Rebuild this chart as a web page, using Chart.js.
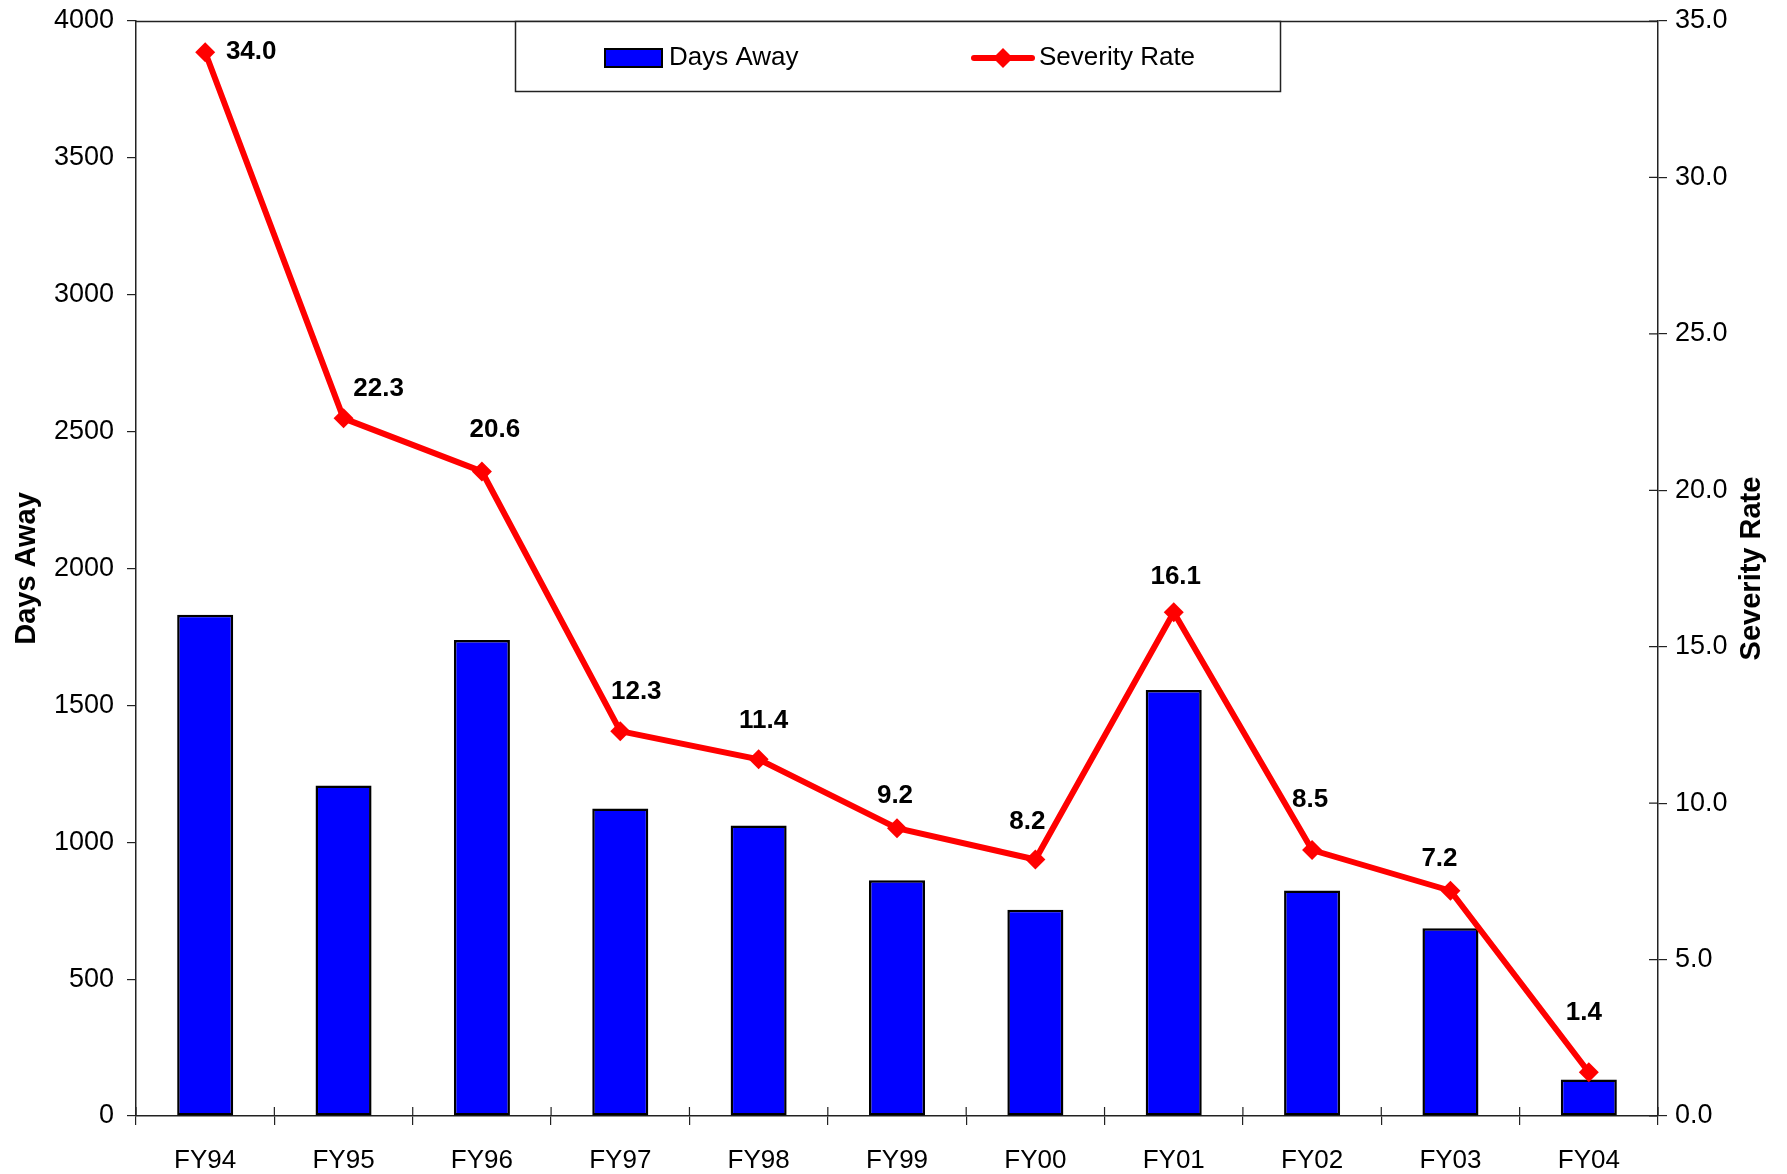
<!DOCTYPE html>
<html>
<head>
<meta charset="utf-8">
<script src="https://cdn.jsdelivr.net/npm/chart.js@4.4.1/dist/chart.umd.min.js"></script>
<style>
  html, body { margin: 0; padding: 0; background: #fff; }
  #wrap { width: 1787px; height: 1174px; }
</style>
</head>
<body>
<div id="wrap"><canvas id="c" width="1787" height="1174"></canvas></div>
<script>
const categories = ['FY94', 'FY95', 'FY96', 'FY97', 'FY98', 'FY99', 'FY00', 'FY01', 'FY02', 'FY03', 'FY04'];
const daysAway = [1831, 1207, 1739, 1123, 1061, 861, 753, 1556, 824, 686, 133];
const severityRate = [34.0, 22.3, 20.6, 12.3, 11.4, 9.2, 8.2, 16.1, 8.5, 7.2, 1.4];
const leftAxisRange = { min: 0, max: 4000, step: 500 };
const rightAxisRange = { min: 0, max: 35, step: 5 };
const seriesNames = ['Days Away', 'Severity Rate'];

const FONT = "'Liberation Sans', Arial, sans-serif";
const labelOffsets = [[46, 0], [35, -30], [13, -42], [16, -39], [5, -39], [-2, -32], [-8, -38], [2, -35], [-2, -50], [-11, -32], [-5, -59]];

const framePlugin = {
  id: 'frame',
  afterDatasetsDraw(chart) {
    const { ctx, chartArea: a, scales } = chart;
    ctx.save();
    ctx.strokeStyle = '#222';
    ctx.lineWidth = 1.5;
    ctx.beginPath();
    ctx.moveTo(a.left, a.top + 0.5);
    ctx.lineTo(a.right, a.top + 0.5);
    ctx.stroke();
    ctx.lineWidth = 1.2;
    ctx.beginPath();
    const x = scales.x;
    for (let i = 0; i <= categories.length; i++) {
      const px = x.getPixelForValue(i - 0.5);
      ctx.moveTo(px, a.bottom);
      ctx.lineTo(px, a.bottom - 9);
    }
    const y1 = scales.y1;
    for (let v = rightAxisRange.min; v <= rightAxisRange.max; v += rightAxisRange.step) {
      const py = y1.getPixelForValue(v);
      ctx.moveTo(a.right, py);
      ctx.lineTo(a.right - 9, py);
    }
    ctx.stroke();
    ctx.save();
    ctx.translate(1752, (a.top + a.bottom) / 2);
    ctx.rotate(-Math.PI / 2);
    ctx.font = "bold 29px " + FONT;
    ctx.fillStyle = '#000';
    ctx.textAlign = 'center';
    ctx.textBaseline = 'middle';
    ctx.fillText(seriesNames[1], 0, 0);
    ctx.restore();
    ctx.restore();
  }
};

const valueLabelPlugin = {
  id: 'valueLabels',
  afterDatasetsDraw(chart) {
    const { ctx } = chart;
    const meta = chart.getDatasetMeta(1);
    ctx.save();
    ctx.font = "bold 26px " + FONT;
    ctx.fillStyle = '#000';
    ctx.textAlign = 'center';
    ctx.textBaseline = 'middle';
    meta.data.forEach((pt, i) => {
      const off = labelOffsets[i] || [0, -35];
      ctx.fillText(severityRate[i].toFixed(1), pt.x + off[0], pt.y + off[1]);
    });
    ctx.restore();
  }
};

const legendPlugin = {
  id: 'boxLegend',
  afterDraw(chart) {
    const { ctx } = chart;
    const ds = chart.data.datasets;
    ctx.save();
    ctx.fillStyle = '#fff';
    ctx.fillRect(515, 21, 765, 70);
    ctx.strokeStyle = '#222';
    ctx.lineWidth = 1.5;
    ctx.strokeRect(515.5, 21.5, 765, 70);
    ctx.fillStyle = ds[0].backgroundColor;
    ctx.fillRect(605, 49, 57, 18);
    ctx.strokeStyle = '#000';
    ctx.lineWidth = 2;
    ctx.strokeRect(605, 49, 57, 18);
    ctx.font = "26px " + FONT;
    ctx.fillStyle = '#000';
    ctx.textBaseline = 'middle';
    ctx.textAlign = 'left';
    ctx.fillText(ds[0].label, 669, 58);
    ctx.strokeStyle = ds[1].borderColor;
    ctx.lineWidth = 6;
    ctx.lineCap = 'round';
    ctx.beginPath();
    ctx.moveTo(974, 58);
    ctx.lineTo(1032, 58);
    ctx.stroke();
    ctx.fillStyle = ds[1].borderColor;
    ctx.beginPath();
    ctx.moveTo(1003, 48);
    ctx.lineTo(1013, 58);
    ctx.lineTo(1003, 68);
    ctx.lineTo(993, 58);
    ctx.closePath();
    ctx.fill();
    ctx.fillStyle = '#000';
    ctx.fillText(ds[1].label, 1039, 58);
    ctx.restore();
  }
};

Chart.defaults.font.family = FONT;
Chart.defaults.color = '#000';

new Chart(document.getElementById('c'), {
  data: {
    labels: categories,
    datasets: [
      {
        type: 'bar',
        label: seriesNames[0],
        data: daysAway,
        yAxisID: 'y',
        backgroundColor: '#0000FF',
        borderColor: '#000',
        borderWidth: 2.5,
        borderSkipped: false,
        barPercentage: 0.405,
        categoryPercentage: 1.0,
        order: 2
      },
      {
        type: 'line',
        label: seriesNames[1],
        data: severityRate,
        yAxisID: 'y1',
        borderColor: '#FF0000',
        backgroundColor: '#FF0000',
        borderWidth: 6,
        tension: 0,
        pointStyle: 'rectRot',
        pointRadius: 10,
        pointBackgroundColor: '#FF0000',
        pointBorderColor: '#FF0000',
        pointBorderWidth: 0,
        order: 1
      }
    ]
  },
  options: {
    responsive: false,
    animation: false,
    devicePixelRatio: 1,
    layout: { padding: { top: 21, left: 0, right: 0, bottom: 0 } },
    plugins: {
      legend: { display: false },
      tooltip: { enabled: false }
    },
    scales: {
      x: {
        type: 'category',
        offset: true,
        grid: { offset: true, drawOnChartArea: false, drawTicks: true, tickLength: 9, color: '#222', lineWidth: 1.2 },
        border: { display: true, color: '#222', width: 1.5 },
        ticks: { font: { size: 26 }, color: '#000', padding: 20, maxRotation: 0, autoSkip: false },
        afterFit(s) { s.height = 58; s.paddingLeft = 0; s.paddingRight = 0; }
      },
      y: {
        position: 'left',
        min: leftAxisRange.min,
        max: leftAxisRange.max,
        ticks: { stepSize: leftAxisRange.step, font: { size: 27 }, color: '#000', padding: 13, callback: v => String(v) },
        grid: { drawOnChartArea: false, drawTicks: true, tickLength: 9, color: '#222', lineWidth: 1.2 },
        border: { display: true, color: '#222', width: 1.5 },
        title: { display: true, text: seriesNames[0], font: { size: 29, weight: 'bold' }, color: '#000', padding: { top: 10, bottom: 0 } },
        afterFit(s) { s.width = 136; s.paddingTop = 0; s.paddingBottom = 0; }
      },
      y1: {
        position: 'right',
        min: rightAxisRange.min,
        max: rightAxisRange.max,
        ticks: { stepSize: rightAxisRange.step, font: { size: 27 }, color: '#000', padding: 8, callback: v => Number(v).toFixed(1) },
        grid: { drawOnChartArea: false, drawTicks: true, tickLength: 9, color: '#222', lineWidth: 1.2 },
        border: { display: true, color: '#222', width: 1.5 },
        title: { display: false },
        afterFit(s) { s.width = 129; s.paddingTop = 0; s.paddingBottom = 0; }
      }
    }
  },
  plugins: [framePlugin, valueLabelPlugin, legendPlugin]
});
</script>
</body>
</html>
